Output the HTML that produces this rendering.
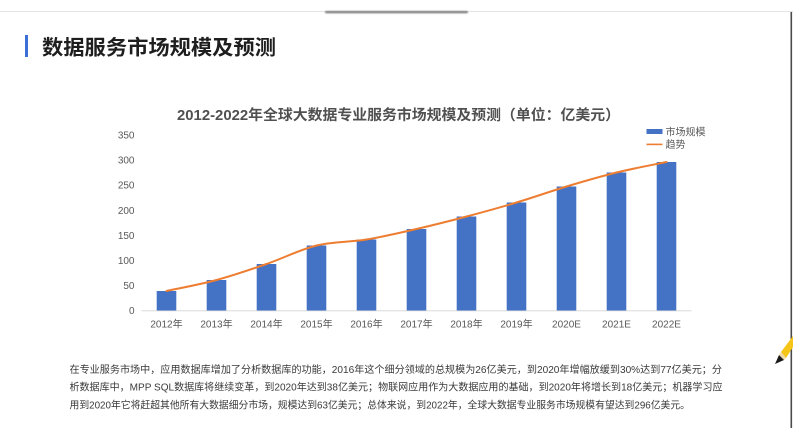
<!DOCTYPE html>
<html><head><meta charset="utf-8"><style>
html,body{margin:0;padding:0;background:#fff;}
body{width:793px;height:446px;overflow:hidden;position:relative;}
svg{position:absolute;left:0;top:0;}
</style></head><body>
<svg width="793" height="446" viewBox="0 0 793 446" xmlns="http://www.w3.org/2000/svg" font-family="'Liberation Sans','Noto Sans CJK SC',sans-serif">
  <defs>
    <filter id="b" x="-10%" y="-200%" width="120%" height="500%"><feGaussianBlur stdDeviation="0.8"/></filter>
  </defs>
  <rect x="0" y="0" width="793" height="446" fill="#ffffff"/>
  <!-- top strip line -->
  <rect x="0" y="11" width="793" height="1" fill="#e4e4e4"/>
  <rect x="325" y="11" width="143" height="2.2" rx="1.1" fill="#7e7e7e" filter="url(#b)"/>
  <!-- right edge -->
  <rect x="790.5" y="12" width="1.6" height="416" fill="#4a4a4a"/>

  <!-- heading -->
  <rect x="25" y="35" width="3" height="22" fill="#3b6fd6"/>
  <text x="42" y="54.5" font-size="20.5" font-weight="bold" fill="#1e1e1e" textLength="234" lengthAdjust="spacingAndGlyphs">数据服务市场规模及预测</text>

  <!-- chart title -->
  <text x="177" y="120" font-size="14.5" font-weight="bold" fill="#505050" textLength="443" lengthAdjust="spacingAndGlyphs">2012-2022年全球大数据专业服务市场规模及预测（单位：亿美元）</text>

  <!-- legend -->
  <rect x="646.5" y="129" width="16" height="5" fill="#4472C4"/>
  <text x="665.5" y="135.5" font-size="10" fill="#595959">市场规模</text>
  <rect x="646.5" y="143.6" width="16" height="1.6" fill="#ED7D31"/>
  <text x="665.5" y="148" font-size="10" fill="#595959">趋势</text>

  <!-- y axis labels -->
  <g font-size="10" fill="#595959" text-anchor="end">
    <text x="134.5" y="314.2">0</text>
    <text x="134.5" y="289.2">50</text>
    <text x="134.5" y="264">100</text>
    <text x="134.5" y="239">150</text>
    <text x="134.5" y="213.8">200</text>
    <text x="134.5" y="188.7">250</text>
    <text x="134.5" y="163.5">300</text>
    <text x="134.5" y="138.5">350</text>
  </g>

  <!-- axis baseline -->
  <rect x="141.5" y="310.3" width="550" height="1" fill="#d9d9d9"/>

  <!-- bars -->
  <g fill="#4472C4">
    <rect x="156.7" y="291" width="19.6" height="19.5"/>
    <rect x="206.7" y="280" width="19.6" height="30.5"/>
    <rect x="256.7" y="264" width="19.6" height="46.5"/>
    <rect x="306.7" y="245.5" width="19.6" height="65"/>
    <rect x="356.7" y="239.5" width="19.6" height="71"/>
    <rect x="406.7" y="229" width="19.6" height="81.5"/>
    <rect x="456.7" y="216.5" width="19.6" height="94"/>
    <rect x="506.7" y="202.5" width="19.6" height="108"/>
    <rect x="556.7" y="186.5" width="19.6" height="124"/>
    <rect x="606.7" y="172.5" width="19.6" height="138"/>
    <rect x="656.7" y="162" width="19.6" height="148.5"/>
  </g>

  <!-- trend line -->
  <path d="M166.5,291 C174.83,289.17 200,284.5 216.5,280 C233.17,275.5 250,269.75 266.5,264 C283.17,258.25 300,249.58 316.5,245.5 C333.17,241.42 350,242.25 366.5,239.5 C383.17,236.75 400,232.83 416.5,229 C433.17,225.17 450,220.92 466.5,216.5 C483.17,212.08 500,207.5 516.5,202.5 C533.17,197.5 550,191.5 566.5,186.5 C583.17,181.5 600,176.58 616.5,172.5 C633.17,168.42 658.17,163.75 666.5,162" fill="none" stroke="#ED7D31" stroke-width="2" stroke-linecap="round"/>

  <!-- x labels -->
  <g font-size="10" fill="#595959" text-anchor="middle">
    <text x="166.5" y="327.3">2012年</text>
    <text x="216.5" y="327.3">2013年</text>
    <text x="266.5" y="327.3">2014年</text>
    <text x="316.5" y="327.3">2015年</text>
    <text x="366.5" y="327.3">2016年</text>
    <text x="416.5" y="327.3">2017年</text>
    <text x="466.5" y="327.3">2018年</text>
    <text x="516.5" y="327.3">2019年</text>
    <text x="566.5" y="327.3">2020E</text>
    <text x="616.5" y="327.3">2021E</text>
    <text x="666.5" y="327.3">2022E</text>
  </g>

  <!-- paragraph -->
  <g font-size="10" fill="#3a3a3a">
    <text x="69.5" y="372.8" textLength="652.5" lengthAdjust="spacingAndGlyphs">在专业服务市场中，应用数据库增加了分析数据库的功能，2016年这个细分领域的总规模为26亿美元，到2020年增幅放缓到30%达到77亿美元；分</text>
    <text x="69.5" y="390.5" textLength="653" lengthAdjust="spacingAndGlyphs">析数据库中，MPP SQL数据库将继续变革，到2020年达到38亿美元；物联网应用作为大数据应用的基础，到2020年将增长到18亿美元；机器学习应</text>
    <text x="69.5" y="408.3" textLength="620.5" lengthAdjust="spacingAndGlyphs">用到2020年它将赶超其他所有大数据细分市场，规模达到63亿美元；总体来说，到2022年，全球大数据专业服务市场规模有望达到296亿美元。</text>
  </g>

  <!-- pencil -->
  <g>
    <polygon points="781,352 793,336 793,347 786,358" fill="#f5c518"/>
    <polygon points="781,352 786,358 784,360 779,355" fill="#f0d9a8"/>
    <polygon points="775,364 779,355 784,360" fill="#1a1a1a"/>
  </g>
</svg>
</body></html>
